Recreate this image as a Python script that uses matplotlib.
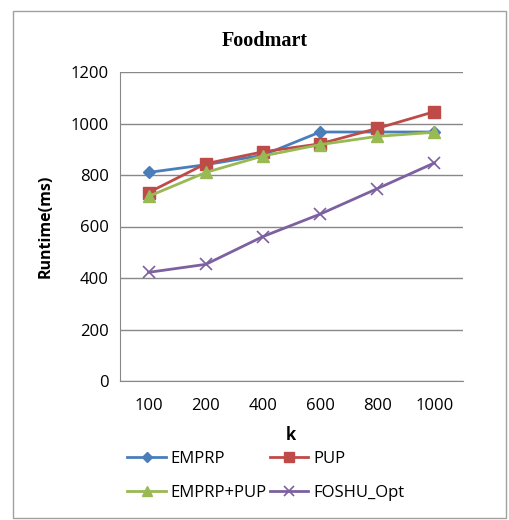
import matplotlib.pyplot as plt
from matplotlib.patches import Rectangle

# données
k_labels = ["100", "200", "400", "600", "800", "1000"]
emprp = [810, 840, 877, 967, 967, 967]
pup = [732, 844, 890, 921, 981, 1046]
emprp_pup = [717, 810, 874, 918, 950, 966]
foshu_opt = [422, 453, 561, 648, 747, 847]

plt.rcParams['font.family'] = ['Open Sans', 'DejaVu Sans']

fig = plt.figure(figsize=(5.1, 5.2), dpi=100)
ax = fig.add_axes([120/510, 1 - 381/520, 343/510, 309/520])

# cadre extérieur
fig.patches.append(Rectangle((13/510, 2/520), 493/510, 507/520, transform=fig.transFigure,
                             fill=False, edgecolor='#a0a0a0', linewidth=1.0))

x = range(len(k_labels))
l1, = ax.plot(x, emprp, color='#4a7ebb', marker='D', markersize=6, linewidth=2, label='EMPRP')
l2, = ax.plot(x, pup, color='#be4b48', marker='s', markersize=8, linewidth=2, label='PUP')
l3, = ax.plot(x, emprp_pup, color='#98b954', marker='^', markersize=8, linewidth=2, label='EMPRP+PUP')
l4, = ax.plot(x, foshu_opt, color='#7d60a0', marker='x', markersize=8, markeredgewidth=1.2,
              linewidth=2, label='FOSHU_Opt')

ax.set_xlim(-0.5, len(k_labels) - 0.5)
ax.set_ylim(0, 1200)
ax.set_yticks(range(0, 1201, 200))
ax.set_xticks(list(x))
ax.set_xticklabels(k_labels)
ax.tick_params(axis='both', length=0, labelsize=12, colors='black')
ax.tick_params(axis='y', pad=8)
ax.tick_params(axis='x', pad=12)
ax.grid(axis='y', color='#888888', linewidth=1)
ax.set_axisbelow(True)
for s in ['top', 'right']:
    ax.spines[s].set_visible(False)
for s in ['left', 'bottom']:
    ax.spines[s].set_color('#888888')

fig.text(0.52, 1 - 41/520, "Foodmart", ha='center', va='center',
         fontfamily='Liberation Serif', fontweight='bold', fontsize=14.5)
ax.set_ylabel("Runtime(ms)", fontweight='bold', fontsize=11.5, labelpad=12)
fig.text(291/510, 1 - 435/520, "k", ha='center', va='center', fontweight='bold', fontsize=12)

# ordre pour avoir EMPRP, PUP sur la première ligne
fig.legend([l1, l3, l2, l4], ['EMPRP', 'EMPRP+PUP', 'PUP', 'FOSHU_Opt'],
           loc='center', bbox_to_anchor=(266/510, 1 - 476/520), ncol=2, frameon=False,
           fontsize=12, handlelength=2.3, handletextpad=0.3, columnspacing=0.2,
           labelspacing=1.1, markerscale=0.85)

fig.savefig("out.png", dpi=100)
